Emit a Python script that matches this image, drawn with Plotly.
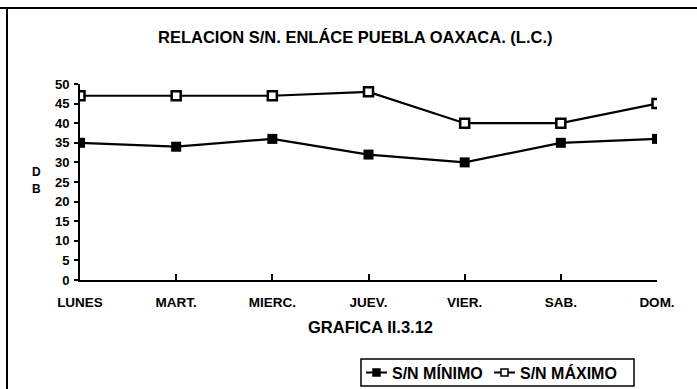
import plotly.graph_objects as go

# Daily signal-to-noise ratio for the Puebla–Oaxaca link
days = ["LUNES", "MART.", "MIERC.", "JUEV.", "VIER.", "SAB.", "DOM."]
sn_min = [35, 34, 36, 32, 30, 35, 36]
sn_max = [47, 47, 47, 48, 40, 40, 45]
y_ticks = [0, 5, 10, 15, 20, 25, 30, 35, 40, 45, 50]
series_names = ["S/N MÍNIMO", "S/N MÁXIMO"]

FONT = "Liberation Sans, Arial, sans-serif"
x_idx = list(range(len(days)))

fig = go.Figure()
fig.add_trace(go.Scatter(
    x=x_idx, y=sn_min, name=series_names[0], mode="lines+markers",
    line=dict(color="black", width=2.2),
    marker=dict(symbol="square", size=10, color="black"),
))
fig.add_trace(go.Scatter(
    x=x_idx, y=sn_max, name=series_names[1], mode="lines+markers",
    line=dict(color="black", width=2.2),
    marker=dict(symbol="square", size=9, color="white",
                line=dict(color="black", width=2.5)),
))

W, H = 697, 389
L, R, T, B = 80, 40, 84, 109
pw, ph = W - L - R, H - T - B


def px(x):
    return (x - L) / pw


def py(y):
    return (H - B - y) / ph


def label(text, x, y, size, xanchor="center"):
    fig.add_annotation(
        text=text, xref="paper", yref="paper", x=px(x), y=py(y),
        xanchor=xanchor, yanchor="middle", showarrow=False,
        font=dict(family=FONT, size=size, weight="bold", color="black"),
    )


fig.update_layout(
    width=W, height=H,
    margin=dict(l=L, r=R, t=T, b=B, autoexpand=False),
    paper_bgcolor="white", plot_bgcolor="white",
    font=dict(family=FONT, color="black", size=12),
    showlegend=False,
    xaxis=dict(
        range=[0, 6], tickvals=x_idx, ticktext=days,
        showline=True, linecolor="black", linewidth=2,
        ticks="inside", ticklen=6, tickwidth=1.5, tickcolor="black",
        showgrid=False, zeroline=False, automargin=False,
        ticklabelstandoff=9,
        tickfont=dict(family=FONT, size=13.5, weight="bold"),
    ),
    yaxis=dict(
        range=[0, 50], tickvals=y_ticks,
        showline=True, linecolor="black", linewidth=2,
        ticks="outside", ticklen=4, tickwidth=1.5, tickcolor="black",
        showgrid=False, zeroline=False, automargin=False,
        ticklabelstandoff=2,
        tickfont=dict(family=FONT, size=13, weight="bold"),
    ),
    yaxis2=dict(
        range=[0, 50], tickvals=y_ticks, overlaying="y", side="left",
        ticks="inside", ticklen=4, tickwidth=1.5, tickcolor="black",
        showticklabels=False, showgrid=False, zeroline=False, showline=False,
        automargin=False,
    ),
)

label("RELACION S/N. ENLÁCE PUEBLA OAXACA. (L.C.)", 355, 37, 16.5)
label("GRAFICA II.3.12", 370, 327, 16.5)
label("D", 36, 172, 12)
label("B", 36, 189, 12)

# outer frame (top and left edges)
fig.add_shape(type="line", xref="paper", yref="paper",
              x0=px(0), x1=px(W), y0=py(8), y1=py(8),
              line=dict(color="black", width=2))
fig.add_shape(type="line", xref="paper", yref="paper",
              x0=px(7), x1=px(7), y0=py(8), y1=py(H),
              line=dict(color="black", width=2))

# boxed legend below the caption
leg_x0, leg_x1, leg_y0, leg_y1 = 361, 634, 359, 386
fig.add_shape(type="rect", xref="paper", yref="paper",
              x0=px(leg_x0), x1=px(leg_x1), y0=py(leg_y1), y1=py(leg_y0),
              line=dict(color="black", width=1.5), fillcolor="white")
leg_cy = (leg_y0 + leg_y1) / 2
for (sx, tx), name, filled in zip(((366, 390), (494, 518)), series_names,
                                  (True, False)):
    fig.add_shape(type="line", xref="paper", yref="paper",
                  x0=px(sx), x1=px(sx + 21), y0=py(leg_cy), y1=py(leg_cy),
                  line=dict(color="black", width=2))
    fig.add_shape(type="rect", xref="paper", yref="paper",
                  x0=px(sx + 7), x1=px(sx + 14),
                  y0=py(leg_cy + 3.5), y1=py(leg_cy - 3.5),
                  line=dict(color="black", width=1.5),
                  fillcolor="black" if filled else "white")
    label(name, tx, leg_cy, 16, xanchor="left")

fig.write_html("out.html")
